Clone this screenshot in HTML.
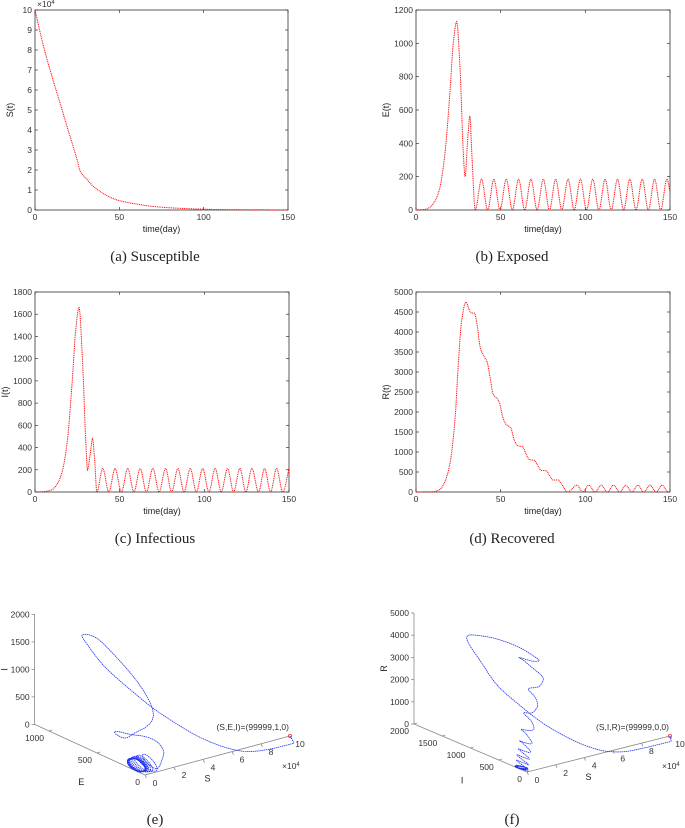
<!DOCTYPE html>
<html><head><meta charset="utf-8"><style>
html,body{margin:0;padding:0;background:#fff;}
svg{display:block;}
.tk{font-family:"Liberation Sans",sans-serif;font-size:8.5px;fill:#333;}
.lb{font-family:"Liberation Sans",sans-serif;font-size:9px;fill:#222;}
.cap{font-family:"Liberation Serif",serif;font-size:15px;fill:#222;}
</style></head><body>
<svg id="fig" width="685" height="828" viewBox="0 0 685 828"></svg>
<script>
// ---- data (key points) ----
const sTimes=[0,5,10,15,20,25,27,30,35,40,45,50,60,70,80,90,100,110,120,150];
const sValues=[10,8.2,6.7,5.3,3.9,2.5,1.9,1.6,1.15,0.85,0.62,0.47,0.3,0.18,0.11,0.07,0.04,0.02,0.01,0];
const eTimes=[0,5,8,11,14,17,20,22,24,26,28,29,30.5,31.8,33,35,38.7,42.3,46,49.6,53.3,56.9,60.6,64.2,67.9,71.5,75.2,78.8,82.5,86.1,89.8,93.4,97.1,100.7,104.4,108,111.7,115.3,119,122.6,126.3,129.9,133.6,137.2,140.9,144.5,148.2,150];
const eValues=[0,3,15,50,130,330,700,1000,1130,850,330,200,420,565,330,0,185,0,185,0,185,0,185,0,185,0,185,0,185,0,185,0,185,0,185,0,185,0,185,0,185,0,185,0,185,0,185,110];
const iTimes=[0,5,10,13,16,19,22,24,26,28,30,31,32.5,34,35.2,36.5,40,43.6,47.3,51,54.8,58.4,62.1,65.8,69.6,73.3,77.1,80.7,84.4,88,91.7,95.3,99,102.7,106.4,110,113.7,117.3,121,124.5,128.1,132,135.6,139.1,142.7,146.3,150];
const iValues=[0,3,20,70,180,450,1000,1450,1660,1200,450,200,330,480,300,0,212,0,212,0,212,0,212,0,212,0,212,0,212,0,212,0,212,0,212,0,212,0,212,0,212,0,212,0,212,0,210];
const rTimes=[0,10,14,17,20,23,25,27,29.5,31,32.5,34.5,36,38,40,42,44,45.5,48,49.5,51,53,56,58,60,63,65,67,70,72,74,77,79,81,84,86,89.5,95,98.5,102,105.8,109.5,113,116.6,120.3,123.9,127.5,131,134.6,138.2,141.8,145.3,149,150];
const rValues=[0,5,60,250,700,1800,3200,4300,4750,4600,4480,4470,4200,3600,3400,3250,2800,2450,2330,2200,1900,1700,1600,1300,1160,1130,950,810,790,650,540,530,400,300,300,200,0,170,0,170,0,170,0,170,0,170,0,170,0,170,0,170,0,0];
const timeTicks=[0,50,100,150];
const sTicks=[0,1,2,3,4,5,6,7,8,9,10];
const eTicks=[0,200,400,600,800,1000,1200];
const iTicks=[0,200,400,600,800,1000,1200,1400,1600,1800];
const rTicks=[0,500,1000,1500,2000,2500,3000,3500,4000,4500,5000];
const s3Ticks=[0,2,4,6,8,10];
const e3Ticks=[0,500,1000];
const i3Ticks=[0,500,1000,1500,2000];
const i3TicksF=[0,500,1000,1500,2000];
const r3Ticks=[0,1000,2000,3000,4000,5000];

const NS="http://www.w3.org/2000/svg";
const fig=document.getElementById('fig');
function mk(tag,attrs,parent){const e=document.createElementNS(NS,tag);for(const k in attrs)e.setAttribute(k,attrs[k]);(parent||fig).appendChild(e);return e;}
function txt(s,attrs,parent){const e=mk('text',attrs,parent);e.textContent=s;return e;}
function interp(xs,ys){
  const n=xs.length,d=[],m=[];
  for(let i=0;i<n-1;i++)d[i]=(ys[i+1]-ys[i])/(xs[i+1]-xs[i]);
  m[0]=d[0];m[n-1]=d[n-2];
  for(let i=1;i<n-1;i++){m[i]=(d[i-1]*d[i]<=0)?0:2*d[i-1]*d[i]/(d[i-1]+d[i]);}
  return t=>{let i=0;while(i<n-2&&t>xs[i+1])i++;
    const h=xs[i+1]-xs[i],s=(t-xs[i])/h,s2=s*s,s3=s2*s;
    return (2*s3-3*s2+1)*ys[i]+(s3-2*s2+s)*h*m[i]+(-2*s3+3*s2)*ys[i+1]+(s3-s2)*h*m[i+1];};
}
const fS=interp(sTimes,sValues),fE=interp(eTimes,eValues),fI=interp(iTimes,iValues),fR=interp(rTimes,rValues);
const tSamples=[];for(let t=0;t<=150.0001;t+=0.25)tSamples.push(t);

function panel(name,box,ymax,yt,fn,ylab,cap,capx,capy,expo){
  const g=mk('g',{});
  
  
  const X=v=>box.x0+(v/150)*(box.x1-box.x0), Y=v=>box.y1-(v/ymax)*(box.y1-box.y0);
  const fr=mk('rect',{x:box.x0,y:box.y0,width:box.x1-box.x0,height:box.y1-box.y0,fill:'none',stroke:'#333','stroke-width':0.8},g);
  
  timeTicks.forEach(v=>{const x=X(v);
    mk('line',{x1:x,x2:x,y1:box.y1,y2:box.y1-3,stroke:'#333','stroke-width':0.7},g);
    mk('line',{x1:x,x2:x,y1:box.y0,y2:box.y0+3,stroke:'#333','stroke-width':0.7},g);
    const t=txt(String(v),{x:x,y:box.y1+10,'text-anchor':'middle',class:'tk'},g);
    });
  yt.forEach(v=>{const y=Y(v);
    mk('line',{x1:box.x0,x2:box.x0+3,y1:y,y2:y,stroke:'#333','stroke-width':0.7},g);
    mk('line',{x1:box.x1,x2:box.x1-3,y1:y,y2:y,stroke:'#333','stroke-width':0.7},g);
    const t=txt(String(v),{x:box.x0-3,y:y+3,'text-anchor':'end',class:'tk'},g);
    });
  const xl=txt('time(day)',{x:(box.x0+box.x1)/2,y:box.y1+22,'text-anchor':'middle',class:'lb'},g);
  
  const yl=txt(ylab,{x:0,y:0,'text-anchor':'middle',class:'lb',transform:`translate(${box.x0-(expo?22:27)},${(box.y0+box.y1)/2}) rotate(-90)`},g);
  
  if(expo){const e=txt('×10',{x:box.x0+2,y:box.y0-3,class:'tk'},g);const s=mk('tspan',{dy:-3,'font-size':6},e);s.textContent='4';
    }
  const d=tSamples.map((t,i)=>(i?'L':'M')+X(t).toFixed(2)+','+Y(Math.max(0,fn(t))).toFixed(2)).join('');
  const p=mk('path',{d:d,fill:'none',stroke:'#f00','stroke-width':1,'stroke-dasharray':'1 0.8'},g);
  
  const c=txt(cap,{x:capx,y:capy,'text-anchor':'middle',class:'cap'},g);
  
}
panel('panel-a-susceptible',{x0:35,x1:288,y0:10,y1:210},10,sTicks,fS,'S(t)','(a)  Susceptible',155,261,true);
panel('panel-b-exposed',{x0:416,x1:670,y0:10,y1:210},1200,eTicks,fE,'E(t)','(b)  Exposed',512,261,false);
panel('panel-c-infectious',{x0:35,x1:289,y0:292,y1:492},1800,iTicks,fI,'I(t)','(c)  Infectious',155,543,false);
panel('panel-d-recovered',{x0:416,x1:670,y0:292,y1:492},5000,rTicks,fR,'R(t)','(d)  Recovered',512,543,false);

function panel3d(name,o,vS,vB,vZ,bMax,zMax,bT,zT,fB,fZ,bLab,zLab,ann,cap,capx,capy,bOff){
  const g=mk('g',{});
  
  
  const P=(s,b,z)=>[o[0]+s*vS[0]+b*vB[0]+z*vZ[0],o[1]+s*vS[1]+b*vB[1]+z*vZ[1]];
  const ax=(a,b)=>mk('line',{x1:a[0],y1:a[1],x2:b[0],y2:b[1],stroke:'#888','stroke-width':0.8},g);
  const p0=P(0,0,0),pS=P(10,0,0),pB=P(0,bMax,0),pZ=P(0,bMax,zMax);
  ax(p0,pS);ax(p0,pB);ax(pB,pZ);
  s3Ticks.forEach(v=>{const q=P(v,0,0);ax(q,[q[0]+1.5,q[1]+3]);
    const t=txt(String(v),{x:q[0]+10,y:q[1]+11,'text-anchor':'middle',class:'tk'},g);
    });
  bT.forEach(v=>{const q=P(0,v,0);ax(q,[q[0]+3,q[1]-1]);
    const t=txt(String(v),{x:q[0]-5,y:q[1]+10,'text-anchor':'end',class:'tk'},g);
    });
  zT.forEach(v=>{const q=P(0,bMax,v);ax(q,[q[0]-3,q[1]]);
    const t=txt(String(v),{x:q[0]-5,y:q[1]+3,'text-anchor':'end',class:'tk'},g);
    });
  const sl=txt('S',{x:P(5,0,0)[0]-10,y:P(5,0,0)[1]+26,'text-anchor':'middle',class:'lb'},g);
  
  const bq=P(0,bMax*0.45,0);
  const bl=txt(bLab,{x:bq[0]-14,y:bq[1]+33,'text-anchor':'middle',class:'lb'},g);
  
  const zq=P(0,bMax,zMax*0.5);
  const zl=txt(zLab,{x:0,y:0,'text-anchor':'middle',class:'lb',transform:`translate(${zq[0]-27},${zq[1]}) rotate(-90)`},g);
  
  const ex=txt('×10',{x:pS[0]-8,y:pS[1]+33,class:'tk'},g);const es=mk('tspan',{dy:-3,'font-size':6},ex);es.textContent='4';
  
  const d=tSamples.map((t,i)=>{const sv=Math.max(0,fS(t));const q=P(sv,Math.max(0,fB(t))-bOff*Math.min(1,sv/6)*(sv<9.5?1:(10-sv)*2),Math.max(0,fZ(t)));return (i?'L':'M')+q[0].toFixed(2)+','+q[1].toFixed(2);}).join('');
  const p=mk('path',{d:d,fill:'none',stroke:'#2233ee','stroke-width':0.8,'stroke-dasharray':'1.5 0.6'},g);
  
  const st=P(fS(0),fB(0),fZ(0));
  const m=mk('circle',{cx:st[0],cy:st[1],r:1.6,fill:'none',stroke:'#f33','stroke-width':0.8},g);
  
  const a=txt(ann,{x:st[0]-1,y:st[1]-6,'text-anchor':'end',class:'tk','font-size':8.5},g);
  
  const c=txt(cap,{x:capx,y:capy,'text-anchor':'middle',class:'cap'},g);
  
}
panel3d('panel-e-sei-phase',[145,775],[14.5,-3.9],[-0.096,-0.044],[0,-0.055],1150,2000,e3Ticks,i3Ticks,fE,fI,'E','I','(S,E,I)=(99999,1,0)','(e)',155,824,120);
panel3d('panel-f-sir-phase',[527,772],[14.3,-3.6],[-0.0565,-0.024],[0,-0.0222],2000,5000,i3TicksF,r3Ticks,fI,fR,'I','R','(S,I,R)=(99999,0,0)','(f)',512,824,150);
</script>
</body></html>
